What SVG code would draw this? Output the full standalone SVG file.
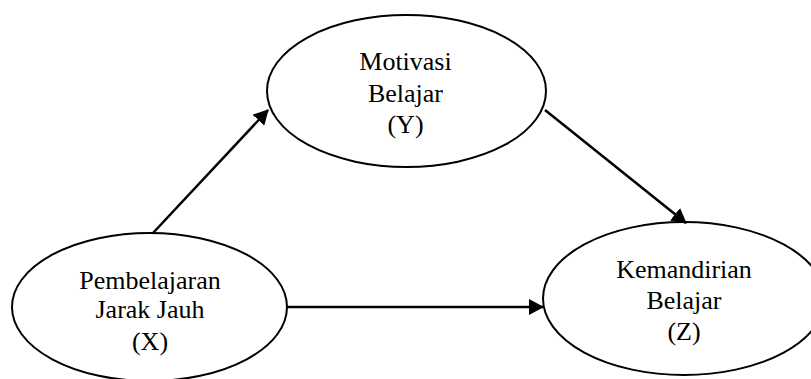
<svg xmlns="http://www.w3.org/2000/svg" width="811" height="379" viewBox="0 0 811 379">
  <style>
    .node ellipse { fill: #ffffff; stroke: #000000; stroke-width: 2; }
    .node text { font-family: "Liberation Serif", "Times New Roman", serif; font-size: 26px; fill: #000000; text-anchor: middle; }
    .edge { stroke: #000000; stroke-width: 2.5; fill: none; marker-end: url(#arrow); }
  </style>
  <defs>
    <marker id="arrow" markerUnits="userSpaceOnUse" markerWidth="15" markerHeight="16" refX="14" refY="8" orient="auto">
      <path d="M0,0 L15,8 L0,16 z" fill="#000000"/>
    </marker>
  </defs>
  <rect width="811" height="379" fill="#ffffff"/>

  <g id="node-y" class="node">
    <ellipse cx="406.5" cy="91" rx="139.5" ry="76"/>
    <text x="405.5" y="70">Motivasi</text>
    <text x="405.5" y="102">Belajar</text>
    <text x="405.5" y="133">(Y)</text>
  </g>

  <g id="node-x" class="node">
    <ellipse cx="149.5" cy="307" rx="137.5" ry="74"/>
    <text x="150" y="289">Pembelajaran</text>
    <text x="150" y="318">Jarak Jauh</text>
    <text x="150" y="350">(X)</text>
  </g>

  <g id="node-z" class="node">
    <ellipse cx="684" cy="298.5" rx="141" ry="76.5"/>
    <text x="684" y="278">Kemandirian</text>
    <text x="684" y="309">Belajar</text>
    <text x="684" y="340">(Z)</text>
  </g>

  <g id="connectors">
    <line class="edge" x1="153" y1="233" x2="268" y2="110"/>
    <line class="edge" x1="545" y1="110" x2="686" y2="223"/>
    <line class="edge" x1="287" y1="307" x2="543" y2="307"/>
  </g>
</svg>
